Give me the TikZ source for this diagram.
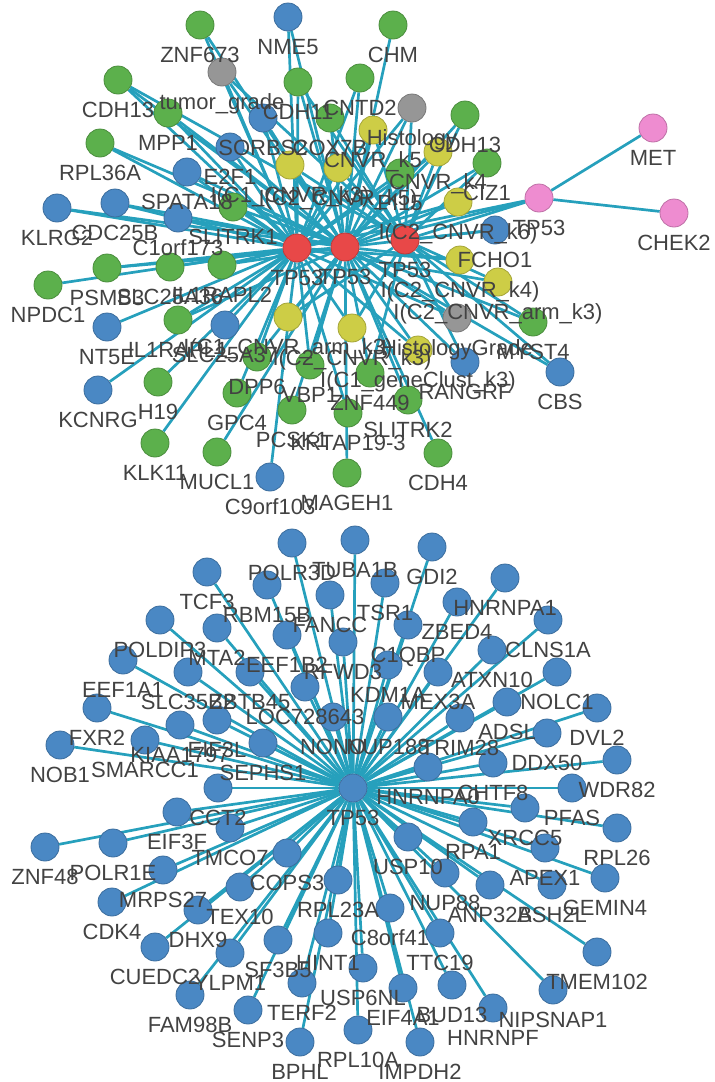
\documentclass[tikz,border=0pt]{standalone}
\usepackage{fontspec}
\setmainfont{Liberation Sans}
\pgfdeclarelayer{bg}
\pgfdeclarelayer{fg}
\pgfsetlayers{bg,main,fg}
\definecolor{nblue}{RGB}{74,136,196}
\definecolor{ngreen}{RGB}{92,176,76}
\definecolor{nred}{RGB}{232,72,72}
\definecolor{nyellow}{RGB}{205,205,70}
\definecolor{ngray}{RGB}{150,150,150}
\definecolor{npink}{RGB}{238,140,208}
\definecolor{ecol}{RGB}{38,160,188}
\definecolor{lcol}{RGB}{66,66,66}
\tikzset{
  vtx/.style={circle,minimum size=28pt,inner sep=0pt,line width=0.8pt},
  nb/.style={vtx,fill=nblue,draw=nblue!80!black},
  ng/.style={vtx,fill=ngreen,draw=ngreen!80!black},
  nr/.style={vtx,fill=nred,draw=nred!80!black},
  ny/.style={vtx,fill=nyellow,draw=nyellow!80!black},
  na/.style={vtx,fill=ngray,draw=ngray!80!black},
  np/.style={vtx,fill=npink,draw=npink!80!black},
  edge/.style={ecol,line width=2.7pt},
  lbl/.style={text=lcol,font=\fontsize{22}{26}\selectfont,inner sep=0pt,anchor=base},
}
\begin{document}
\begin{tikzpicture}[x=1pt,y=-1pt]
\useasboundingbox (0,0) rectangle (715,1082);
% ---------------- nodes ----------------
\foreach \n/\x/\y/\s/\t in {
 ha/297/248/nr/TP53, hb/345/247/nr/TP53, hc/405/240/nr/TP53,
 pk/539/198/np/TP53, met/653/128/np/MET, chek2/674/213/np/CHEK2,
 znf673/200/25/ng/ZNF673, tumor/222/72/na/tumor\_grade, cdhA/118/80/ng/CDH13,
 mpp1/168/113/ng/MPP1, rpl36a/100/143/ng/RPL36A, spata18/187/172/nb/SPATA18,
 e2f1/230/147/nb/E2F1, klrg2/57/208/nb/KLRG2, cdc25b/115/203/nb/CDC25B,
 c1orf173/178/218/nb/C1orf173, slitrk1/233/207/ng/SLITRK1, npdc1/48/285/ng/NPDC1,
 psmb/107/268/ng/PSMB3, slcA/170/267/ng/SLC25A36, ilA/222/265/ng/IL1RAPL2,
 nt5e/107/327/nb/NT5E, ilB/178/320/ng/IL1RAPL1, slcB/225/325/nb/SLC25A37,
 kcnrg/98/390/nb/KCNRG, h19/158/382/ng/H19, klk11/155/443/ng/KLK11,
 mucl1/217/452/ng/MUCL1, gpc4/237/393/ng/GPC4, dpp6/257/357/ng/DPP6,
 vbp1/310/365/ng/VBP1, znf449/370/373/ng/ZNF449, pcsk1/292/410/ng/PCSK1,
 krtap/348/413/ng/KRTAP19-3, slitrk2/408/400/ng/SLITRK2, cdh4/438/453/ng/CDH4,
 c9orf/270/477/nb/C9orf103, mageh1/347/473/ng/MAGEH1, nme5/288/17/nb/NME5,
 chm/393/25/ng/CHM, cdh11/298/82/ng/CDH11, cntd2/360/78/ng/CNTD2,
 sorbs2/263/118/nb/SORBS2, cox7b/330/118/ng/COX7B, histo/412/108/na/Histology,
 cdhB/465/115/ng/CDH13, yk5/373/130/ny/CNVR\_k5, yA/290/165/ny/I(C1\_CNVR\_k3),
 yB/338/168/ny/I(C2\_CNVR\_k5), yk4/438/152/ny/CNVR\_k4, pi15/400/173/ng/PI15,
 ciz1/487/163/ng/CIZ1, yC/458/202/ny/I(C2\_CNVR\_k6), fcho1/495/230/nb/FCHO1,
 yD/460/260/ny/I(C2\_CNVR\_k4), yE/498/282/ny/I(C2\_CNVR\_arm\_k3),
 hgrade/457/318/na/HistologyGrade, myst4/533/322/ng/MYST4, cbs/560/372/nb/CBS,
 rangrf/465/362/nb/RANGRF, yF/352/328/ny/I(C2\_CNVR\_k3),
 yG/418/350/ny/I(C1\_geneClust\_k3), yH/288/317/ny/I(C1\_CNVR\_arm\_k3),
 hub/353/788/nb/TP53,
 polr3d/292/543/nb/POLR3D, tuba1b/355/540/nb/TUBA1B, gdi2/432/547/nb/GDI2,
 hnrnpa1/505/578/nb/HNRNPA1, tcf3/207/572/nb/TCF3, rbm15b/267/585/nb/RBM15B,
 tsr1/385/583/nb/TSR1, fancc/330/595/nb/FANCC, zbed4/457/602/nb/ZBED4,
 clns1a/548/620/nb/CLNS1A, poldip3/160/620/nb/POLDIP3, mta2/217/628/nb/MTA2,
 eef1b2/287/635/nb/EEF1B2, rfwd3/343/642/nb/RFWD3, c1qbp/408/625/nb/C1QBP,
 atxn10/492/650/nb/ATXN10, eef1a1/123/660/nb/EEF1A1, slc35b2/188/672/nb/SLC35B2,
 zbtb45/250/672/nb/ZBTB45, kdm1a/388/665/nb/KDM1A, mex3a/438/672/nb/MEX3A,
 nolc1/557/672/nb/NOLC1, loc/305/687/nb/LOC728643, adsl/507/702/nb/ADSL,
 dvl2/597/708/nb/DVL2, fxr2/97/708/nb/FXR2, kiaa/180/725/nb/KIAA1797,
 eif3l/217/720/nb/EIF3L, nono/333/717/nb/NONO, nup188/388/717/nb/NUP188,
 trim28/460/718/nb/TRIM28, nob1/60/745/nb/NOB1, smarcc1/145/740/nb/SMARCC1,
 sephs1/263/743/nb/SEPHS1, ddx50/547/733/nb/DDX50, wdr82/617/760/nb/WDR82,
 hnrnpa0/428/767/nb/HNRNPA0, chtf8/493/763/nb/CHTF8, cct2/218/788/nb/CCT2,
 pfas/572/788/nb/PFAS, eif3f/177/812/nb/EIF3F, xrcc5/525/808/nb/XRCC5,
 znf48/45/847/nb/ZNF48, polr1e/113/843/nb/POLR1E, tmco7/230/828/nb/TMCO7,
 rpa1/473/822/nb/RPA1, rpl26/617/828/nb/RPL26, usp10/408/837/nb/USP10,
 apex1/545/848/nb/APEX1, mrps27/163/870/nb/MRPS27, cops3/287/853/nb/COPS3,
 nup88/445/873/nb/NUP88, anp32b/490/885/nb/ANP32B, ash2l/552/885/nb/ASH2L,
 gemin4/605/878/nb/GEMIN4, cdk4/112/902/nb/CDK4, tex10/240/887/nb/TEX10,
 rpl23a/338/880/nb/RPL23A, dhx9/198/910/nb/DHX9, c8orf41/390/908/nb/C8orf41,
 sf3b5/278/940/nb/SF3B5, hint1/328/933/nb/HINT1, ttc19/440/933/nb/TTC19,
 tmem102/597/952/nb/TMEM102, cuedc2/155/947/nb/CUEDC2, ylpm1/230/953/nb/YLPM1,
 usp6nl/363/968/nb/USP6NL, terf2/302/983/nb/TERF2, eif4a1/403/988/nb/EIF4A1,
 bud13/452/985/nb/BUD13, nipsnap1/553/990/nb/NIPSNAP1, fam98b/190/995/nb/FAM98B,
 senp3/248/1010/nb/SENP3, hnrnpf/493/1008/nb/HNRNPF, rpl10a/358/1030/nb/RPL10A,
 bphl/300/1042/nb/BPHL, impdh2/420/1042/nb/IMPDH2%
}{
  \node[\s] (\n) at (\x,\y) {};
  \begin{pgfonlayer}{fg}
    \node[lbl] (\n-l) at (\x,\y+37) {\t};
  \end{pgfonlayer}
}
% ---------------- edges ----------------
\begin{pgfonlayer}{bg}
\foreach \a/\b in {
 pk/met, pk/chek2, pk/ha, pk/hb, pk/hc,
 ha/znf673, hb/znf673, ha/tumor, hb/tumor, hc/tumor, ha/cdhA, hb/cdhA, hc/cdhA,
 ha/mpp1, hb/mpp1, ha/rpl36a, hb/rpl36a, ha/spata18, hb/spata18, ha/e2f1, hb/e2f1,
 ha/klrg2, hb/klrg2, ha/cdc25b, hb/cdc25b, ha/c1orf173, hb/c1orf173,
 ha/slitrk1, hb/slitrk1, ha/npdc1, ha/psmb, hb/psmb, ha/slcA, ha/ilA, hb/ilA,
 ha/nt5e, ha/ilB, hb/ilB, ha/slcB, ha/kcnrg, ha/h19, ha/klk11, hb/mucl1, ha/gpc4,
 ha/dpp6, hb/dpp6, ha/vbp1, hb/vbp1, hb/znf449, hc/znf449, hb/pcsk1, ha/krtap,
 hb/slitrk2, hb/cdh4, ha/c9orf, hb/mageh1, ha/nme5, hb/nme5, hb/chm,
 ha/cdh11, hb/cdh11, hc/cdh11, ha/cntd2, hb/cntd2, ha/sorbs2, hb/sorbs2,
 hb/cox7b, hc/cox7b, ha/histo, hb/histo, hc/histo, hb/cdhB, hc/cdhB,
 ha/yk5, hb/yk5, hc/yk5, hb/yA, hc/yA, ha/yB, hc/yB, ha/yk4, hb/yk4, hc/yk4,
 ha/pi15, hb/pi15, hb/ciz1, hc/ciz1, ha/yC, hb/yC, hb/fcho1, hc/fcho1,
 ha/yD, hb/yD, ha/yE, hc/yE, ha/hgrade, hb/hgrade, hc/hgrade, hb/myst4, hc/myst4,
 hb/cbs, hc/cbs, hb/rangrf, hc/rangrf, ha/yF, hc/yF, ha/yG, hb/yG, hb/yH, hc/yH,
 hub/polr3d, hub/tuba1b, hub/gdi2, hub/hnrnpa1, hub/tcf3, hub/rbm15b, hub/tsr1,
 hub/fancc, hub/zbed4, hub/clns1a, hub/poldip3, hub/mta2, hub/eef1b2, hub/rfwd3,
 hub/c1qbp, hub/atxn10, hub/eef1a1, hub/slc35b2, hub/zbtb45, hub/kdm1a, hub/mex3a,
 hub/nolc1, hub/loc, hub/adsl, hub/dvl2, hub/fxr2, hub/kiaa, hub/eif3l, hub/nono,
 hub/nup188, hub/trim28, hub/nob1, hub/smarcc1, hub/sephs1, hub/ddx50, hub/wdr82,
 hub/hnrnpa0, hub/chtf8, hub/cct2, hub/pfas, hub/eif3f, hub/xrcc5, hub/znf48,
 hub/polr1e, hub/tmco7, hub/rpa1, hub/rpl26, hub/usp10, hub/apex1, hub/mrps27,
 hub/cops3, hub/nup88, hub/anp32b, hub/ash2l, hub/gemin4, hub/cdk4, hub/tex10,
 hub/rpl23a, hub/dhx9, hub/c8orf41, hub/sf3b5, hub/hint1, hub/ttc19, hub/tmem102,
 hub/cuedc2, hub/ylpm1, hub/usp6nl, hub/terf2, hub/eif4a1, hub/bud13, hub/nipsnap1,
 hub/fam98b, hub/senp3, hub/hnrnpf, hub/rpl10a, hub/bphl, hub/impdh2%
}{
  \draw[edge] (\a) -- (\b);
}
\end{pgfonlayer}
\end{tikzpicture}
\end{document}
